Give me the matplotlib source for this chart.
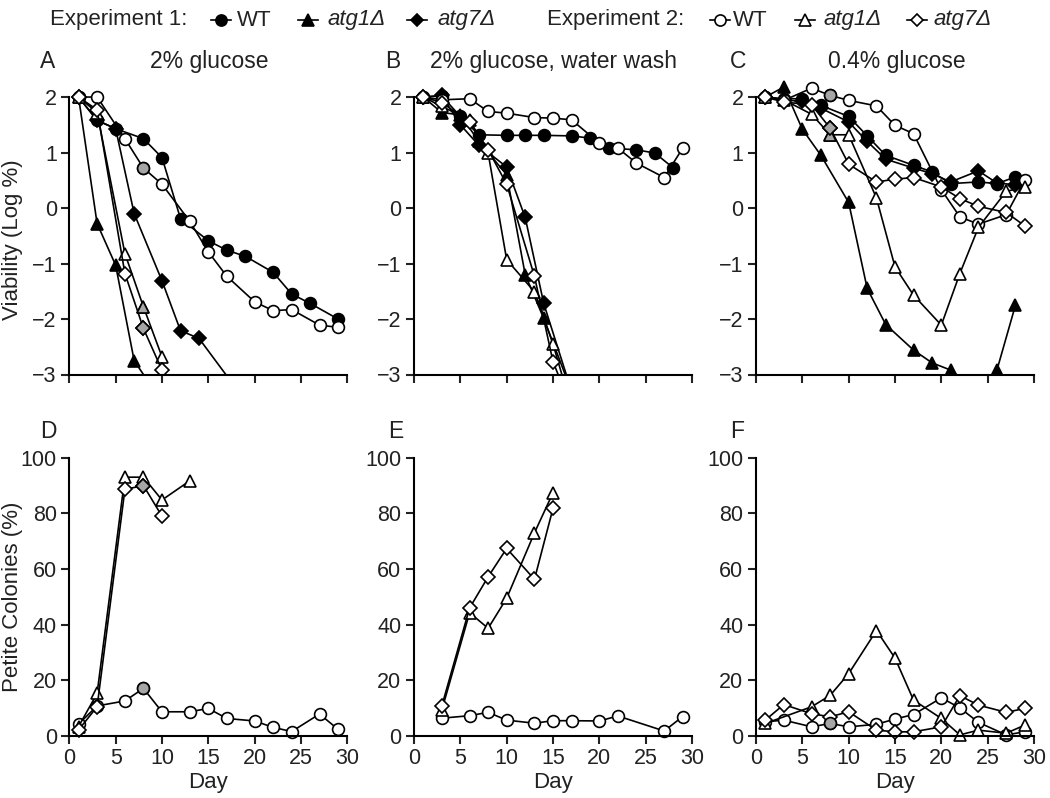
import matplotlib.pyplot as plt
from matplotlib.lines import Line2D

plt.rcParams['font.family'] = ['Liberation Sans', 'DejaVu Sans']

W, H = 1050, 798

# sampling days
exp1_days = [1, 3, 5, 7, 10, 12, 14, 17, 19, 21, 24, 26, 28]
exp2_days = [1, 3, 6, 8, 10, 13, 15, 17, 20, 22, 24, 27, 29]

# ---- A: 2% glucose, viability (log %)
a_wt1_days = [1, 3, 5, 8, 10, 12, 15, 17, 19, 22, 24, 26, 29]
a_wt1 = [2.0, 1.58, 1.43, 1.25, 0.91, -0.19, -0.59, -0.76, -0.87, -1.16, -1.55, -1.72, -2.0]
a_atg1_1_days = [1, 3, 5, 7, 9]
a_atg1_1 = [2.0, -0.28, -1.03, -2.75, -3.25]
a_atg7_1_days = [1, 3, 5, 7, 10, 12, 14, 18]
a_atg7_1 = [2.0, 1.58, 1.43, -0.1, -1.31, -2.21, -2.35, -3.25]
a_wt2 = [2.0, 2.0, 1.25, 0.72, 0.43, -0.24, -0.79, -1.23, -1.69, -1.85, -1.83, -2.11, -2.15]
a_mut2_days = [1, 3, 6, 8, 10, 12]
a_atg1_2 = [2.0, 1.72, -0.82, -1.78, -2.68, -4.5]
a_atg7_2 = [2.0, 1.77, -1.18, -2.17, -2.92, -4.5]

# ---- B: 2% glucose, water wash
b_wt1 = [2.0, 2.02, 1.65, 1.32, 1.31, 1.31, 1.31, 1.30, 1.26, 1.08, 1.05, 0.99, 0.72]
b_mut1_days = [1, 3, 5, 7, 10, 12, 14, 17]
b_atg1_1 = [2.0, 1.72, 1.68, 1.2, 0.6, -1.2, -1.99, -3.3]
b_atg7_1 = [2.0, 2.03, 1.5, 1.13, 0.74, -0.17, -1.72, -3.3]
b_wt2 = [2.0, 1.95, 1.97, 1.74, 1.71, 1.63, 1.62, 1.59, 1.17, 1.08, 0.81, 0.55, 1.08]
b_mut2_days = [1, 3, 6, 8, 10, 13, 15, 17]
b_atg1_2 = [2.0, 1.83, 1.59, 0.99, -0.93, -1.51, -2.45, -3.6]
b_atg7_2 = [2.0, 1.9, 1.55, 1.05, 0.43, -1.23, -2.77, -3.6]

# ---- C: 0.4% glucose
c_wt1 = [2.0, 1.97, 1.97, 1.85, 1.65, 1.3, 0.95, 0.77, 0.65, 0.44, 0.47, 0.44, 0.56]
c_atg1_1 = [2.0, 2.18, 1.42, 0.95, 0.1, -1.45, -2.1, -2.56, -2.79, -2.92, -3.3, -2.92, -1.75]
c_atg7_1 = [2.0, 1.95, 1.92, 1.8, 1.55, 1.2, 0.88, 0.72, 0.62, 0.47, 0.67, 0.45, 0.42]
c_wt2 = [2.0, 1.94, 2.16, 2.03, 1.94, 1.84, 1.49, 1.34, 0.33, -0.16, -0.29, -0.12, 0.5]
c_atg1_2 = [2.0, 1.95, 1.69, 1.32, 1.32, 0.18, -1.06, -1.57, -2.11, -1.18, -0.35, 0.3, 0.38]
c_atg7_2 = [2.0, 1.91, 1.86, 1.44, 0.79, 0.47, 0.52, 0.55, 0.38, 0.17, 0.03, -0.08, -0.32]

# ---- D/E/F: petite colonies (%), experiment 2 only
d_wt2 = [4.3, 10.8, 12.6, 17.1, 8.7, 8.7, 9.9, 6.3, 5.4, 3.1, 1.6, 7.9, 2.4]
d_atg1_days = [1, 3, 6, 8, 10, 13]
d_atg1 = [3.4, 15.3, 93, 93, 84.8, 91.7]
d_atg7_days = [1, 3, 6, 8, 10]
d_atg7 = [2.2, 10.5, 88.6, 90, 79]

e_wt2_days = [3, 6, 8, 10, 13, 15, 17, 20, 22, 27, 29]
e_wt2 = [6.4, 7.3, 8.5, 5.7, 4.6, 5.5, 5.5, 5.4, 7.2, 1.8, 7.0]
e_mut_days = [3, 6, 8, 10, 13, 15]
e_atg1 = [9.3, 44.3, 38.7, 49.5, 73, 87.4]
e_atg7 = [10.8, 46, 57.2, 67.4, 56.3, 81.8]

f_wt2 = [5.1, 5.7, 3.3, 4.5, 3.3, 4.2, 6.1, 7.7, 13.7, 10.1, 4.9, 0.4, 1.5]
f_atg1_days = [1, 6, 8, 10, 13, 15, 17, 20, 22, 24, 27, 29]
f_atg1 = [4.5, 10.5, 14.6, 22.4, 37.9, 28, 12.9, 6.3, 0.4, 2.1, 1.0, 3.9]
f_atg7 = [5.7, 11.3, 8.0, 6.9, 8.7, 2.1, 1.5, 1.5, 3.3, 14.5, 11.1, 8.5, 9.9]

GRAY_DAY = 8  # some day-8 points are drawn with a grey fill


def fx(x):
    return x / W


def fy(y):
    return 1 - y / H


fig = plt.figure(figsize=(W / 100, H / 100), dpi=100)

lefts = [69.3, 414, 756]
aw = 278
top_axes = [fig.add_axes([fx(l), fy(374.5), aw / W, (374.5 - 80.4) / H]) for l in lefts]
bot_axes = [fig.add_axes([fx(l), fy(736), aw / W, (736 - 457.7) / H]) for l in lefts]


def series(ax, days, vals, marker, filled, gray=False, clip=True):
    fc = 'black' if filled else 'white'
    ms = 8.5 if marker != 'D' else 7
    ax.plot(days, vals, color='black', lw=1.2, marker=marker, ms=ms,
            mfc=fc, mec='black', mew=1.2, clip_on=clip)
    if gray:
        i = days.index(GRAY_DAY)
        ax.plot([days[i]], [vals[i]], ls='none', marker=marker, ms=ms,
                mfc='#a6a6a6', mec='black', mew=1.2, clip_on=clip, zorder=3)


# top row
series(top_axes[0], a_wt1_days, a_wt1, 'o', True)
series(top_axes[0], a_atg1_1_days, a_atg1_1, '^', True)
series(top_axes[0], a_atg7_1_days, a_atg7_1, 'D', True)
series(top_axes[0], exp2_days, a_wt2, 'o', False, gray=True)
series(top_axes[0], a_mut2_days, a_atg1_2, '^', False, gray=True)
series(top_axes[0], a_mut2_days, a_atg7_2, 'D', False, gray=True)

series(top_axes[1], exp1_days, b_wt1, 'o', True)
series(top_axes[1], b_mut1_days, b_atg1_1, '^', True)
series(top_axes[1], b_mut1_days, b_atg7_1, 'D', True)
series(top_axes[1], exp2_days, b_wt2, 'o', False)
series(top_axes[1], b_mut2_days, b_atg1_2, '^', False)
series(top_axes[1], b_mut2_days, b_atg7_2, 'D', False)

series(top_axes[2], exp1_days, c_wt1, 'o', True)
series(top_axes[2], exp1_days, c_atg1_1, '^', True)
series(top_axes[2], exp1_days, c_atg7_1, 'D', True)
series(top_axes[2], exp2_days, c_wt2, 'o', False, gray=True)
series(top_axes[2], exp2_days, c_atg1_2, '^', False, gray=True)
series(top_axes[2], exp2_days, c_atg7_2, 'D', False, gray=True)

# bottom row
series(bot_axes[0], exp2_days, d_wt2, 'o', False, gray=True, clip=False)
series(bot_axes[0], d_atg1_days, d_atg1, '^', False, clip=False)
series(bot_axes[0], d_atg7_days, d_atg7, 'D', False, gray=True, clip=False)

series(bot_axes[1], e_wt2_days, e_wt2, 'o', False, clip=False)
series(bot_axes[1], e_mut_days, e_atg1, '^', False, clip=False)
series(bot_axes[1], e_mut_days, e_atg7, 'D', False, clip=False)

series(bot_axes[2], exp2_days, f_wt2, 'o', False, gray=True, clip=False)
series(bot_axes[2], f_atg1_days, f_atg1, '^', False, clip=False)
series(bot_axes[2], exp2_days, f_atg7, 'D', False, clip=False)

tc = '#222222'
for ax in top_axes + bot_axes:
    ax.set_xlim(0, 30)
    ax.set_xticks(range(0, 31, 5))
    for s in ['top', 'right']:
        ax.spines[s].set_visible(False)
    for s in ['left', 'bottom']:
        ax.spines[s].set_linewidth(1.5)
    ax.tick_params(direction='out', length=6, width=1.5, labelsize=15.5,
                   colors=tc, pad=3)

for ax in top_axes:
    ax.set_ylim(-3, 2.3)
    ax.spines['left'].set_bounds(-3, 2)
    ax.set_yticks(range(-3, 3))
    ax.tick_params(axis='x', labelbottom=False)

for ax in bot_axes:
    ax.set_ylim(0, 100)
    ax.set_yticks(range(0, 101, 20))
    ax.set_xlabel('Day', fontsize=16, color=tc, labelpad=2)

top_axes[0].set_ylabel('Viability (Log %)', fontsize=16, color=tc)
top_axes[0].yaxis.set_label_coords((23 - 69.3) / aw, 0.46)
bot_axes[0].set_ylabel('Petite Colonies (%)', fontsize=16, color=tc)
bot_axes[0].yaxis.set_label_coords((23 - 69.3) / aw, 0.5)

# panel letters and titles
for letter, x in zip('ABC', [40, 385, 730]):
    fig.text(fx(x), fy(68), letter, fontsize=16.5, color=tc, va='baseline')
for letter, x in zip('DEF', [40, 388, 730]):
    fig.text(fx(x), fy(438), letter, fontsize=16.5, color=tc, va='baseline')
titles = ['2% glucose', '2% glucose, water wash', '0.4% glucose']
for t, x in zip(titles, [209, 553, 897]):
    fig.text(fx(x), fy(68), t, fontsize=16.5, color=tc, va='baseline', ha='center')

# legend across the top
ly = 20
fig.text(fx(50), fy(ly), 'Experiment 1:', fontsize=16, color=tc, va='center')
fig.text(fx(547), fy(ly), 'Experiment 2:', fontsize=16, color=tc, va='center')
entries = [(221, 'o', 'black', 'WT', 237, 'normal'),
           (308, '^', 'black', 'atg1Δ', 327, 'italic'),
           (417, 'D', 'black', 'atg7Δ', 437, 'italic'),
           (720, 'o', 'white', 'WT', 733, 'normal'),
           (805, '^', 'white', 'atg1Δ', 823, 'italic'),
           (917, 'D', 'white', 'atg7Δ', 933, 'italic')]
for cx, m, fc, lab, tx, st in entries:
    fig.add_artist(Line2D([fx(cx - 10), fx(cx + 10)], [fy(ly), fy(ly)],
                          transform=fig.transFigure, color='black', lw=1.2))
    fig.add_artist(Line2D([fx(cx)], [fy(ly)], transform=fig.transFigure,
                          marker=m, ms=8 if m != 'D' else 6.5, mfc=fc,
                          mec='black', mew=1.2, ls='none'))
    fig.text(fx(tx), fy(ly), lab, fontsize=16, color=tc, va='center', style=st)

fig.savefig('out.png', dpi=100)
